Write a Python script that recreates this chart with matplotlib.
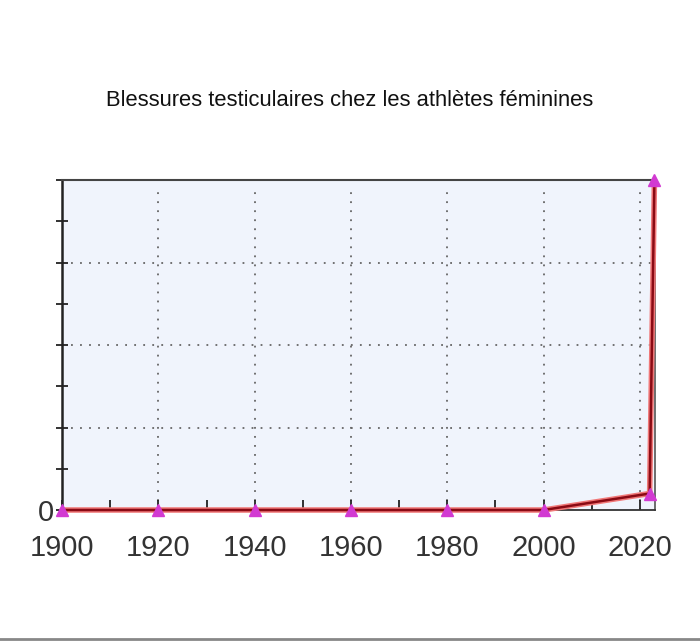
import matplotlib.pyplot as plt
from matplotlib.lines import Line2D
from matplotlib.ticker import MultipleLocator, FixedLocator

# data
years = [1900, 1920, 1940, 1960, 1980, 2000, 2022, 2023]
injuries = [0, 0, 0, 0, 0, 0, 0.2, 4]
xtick_years = [1900, 1920, 1940, 1960, 1980, 2000, 2020]
title = "Blessures testiculaires chez les athlètes féminines"

fig = plt.figure(figsize=(7, 6.42), dpi=100)
ax = fig.add_axes([0.0886, 0.2056, 0.847, 0.514])
ax.set_facecolor('#f0f4fc')

# line: light red halo with a dark red core, magenta triangles on top
ax.plot(years, injuries, color='#f07878', lw=4, solid_capstyle='round', zorder=3, clip_on=False)
ax.plot(years, injuries, color='#8a0a14', lw=1.8, zorder=4, clip_on=False)
ax.plot(years, injuries, ls='none', marker='^', ms=8, color='#d23ad2', zorder=5, clip_on=False)

ax.set_xlim(1900, 2023.1)
ax.set_ylim(0, 4)

ax.xaxis.set_major_locator(FixedLocator(xtick_years))
ax.xaxis.set_minor_locator(MultipleLocator(10))
ax.yaxis.set_major_locator(FixedLocator([0, 1, 2, 3, 4]))
ax.yaxis.set_minor_locator(MultipleLocator(0.5))
ax.set_yticklabels(['0', '', '', '', ''])

ax.tick_params(axis='x', which='both', direction='in', length=7, width=1.3, color='#222222',
               labelsize=21, pad=17, labelcolor='#333333')
ax.tick_params(axis='y', which='both', direction='inout', length=8, width=1.3, color='#222222',
               labelsize=21, pad=2, labelcolor='#333333')
for lab in ax.get_xticklabels() + ax.get_yticklabels():
    lab.set_fontfamily(['Liberation Sans', 'DejaVu Sans'])

for gx in xtick_years[1:]:
    ax.axvline(gx, ymax=0.97, color='#666666', ls=(0, (1, 4)), lw=1.3, zorder=1)
for gy in [1, 2, 3]:
    ax.axhline(gy, color='#666666', ls=(0, (1, 4)), lw=1.3, zorder=1)

ax.spines['left'].set_color('#222222')
ax.spines['left'].set_linewidth(1.8)
ax.spines['bottom'].set_color('#333333')
ax.spines['bottom'].set_linewidth(1.3)
ax.spines['top'].set_color('#444444')
ax.spines['top'].set_linewidth(1.5)
ax.spines['right'].set_color('#555555')
ax.spines['right'].set_linewidth(1.2)

fig.text(0.5, 0.843, title, ha='center', va='center', fontsize=15.8,
         family=['Liberation Sans Narrow', 'Liberation Sans', 'DejaVu Sans'], color='#111111')

# thin grey border line at the very bottom of the image
fig.add_artist(Line2D([0, 1], [0.004, 0.004], color='#888888', lw=2, transform=fig.transFigure))

fig.savefig('out.png', dpi=100)
